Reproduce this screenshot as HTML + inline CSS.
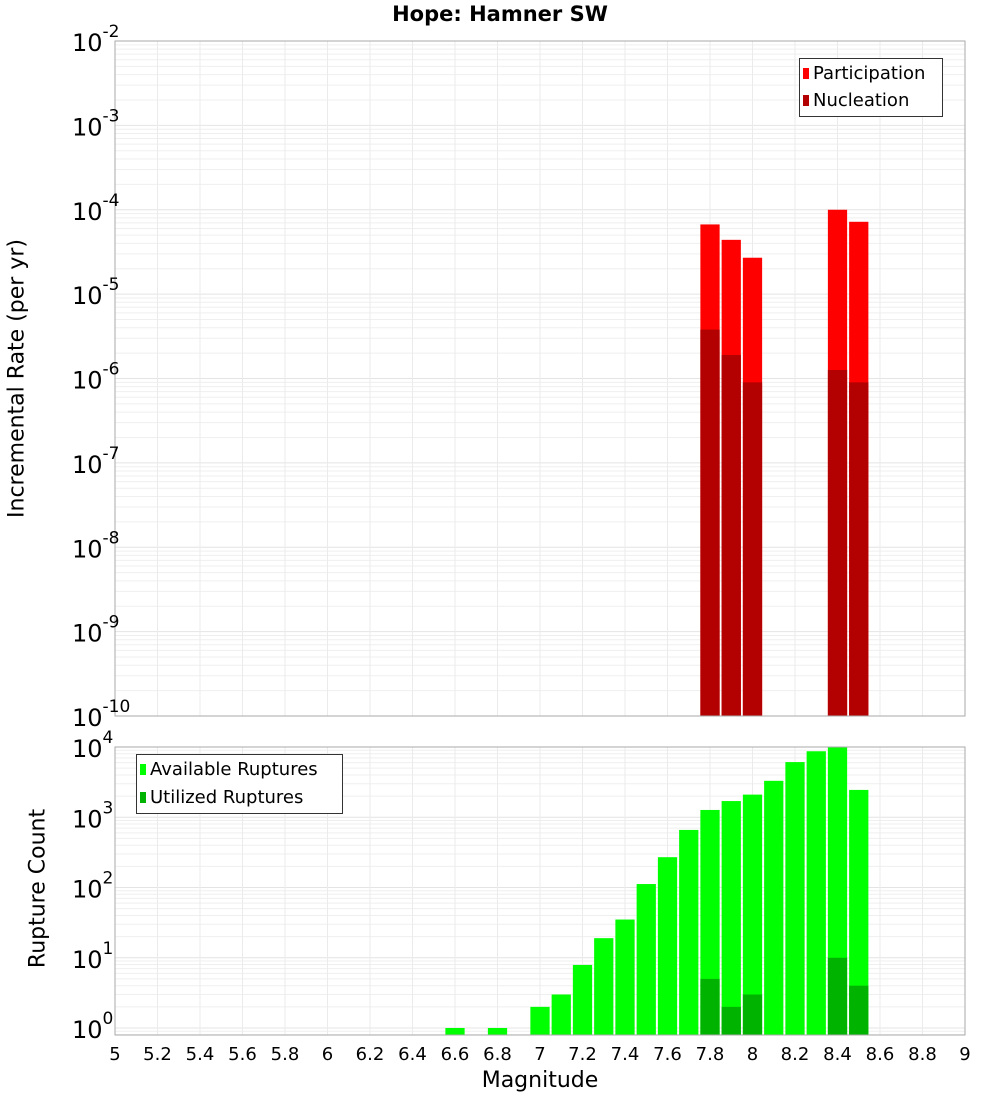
<!DOCTYPE html>
<html><head><meta charset="utf-8"><style>
body{margin:0;background:#fff;}
svg{display:block;font-family:"DejaVu Sans","Liberation Sans",sans-serif;}
</style></head><body>
<svg id="c" width="1000" height="1100"></svg>
<script>
const mags = [7.8, 7.9, 8.0, 8.4, 8.5];
const participation = [6.7e-5, 4.4e-5, 2.7e-5, 1.0e-4, 7.2e-5];
const nucleation = [3.8e-6, 1.9e-6, 9e-7, 1.26e-6, 9e-7];
const countMags = [6.6, 6.8, 7.0, 7.1, 7.2, 7.3, 7.4, 7.5, 7.6, 7.7, 7.8, 7.9, 8.0, 8.1, 8.2, 8.3, 8.4, 8.5];
const available = [1, 1, 2, 3, 7.9, 19, 35, 112, 270, 660, 1270, 1700, 2100, 3300, 6100, 8700, 10000, 2450];
const utilMags = [7.8, 7.9, 8.0, 8.4, 8.5];
const utilized = [5, 2, 3, 10, 4];
const xTicks = [5,5.2,5.4,5.6,5.8,6,6.2,6.4,6.6,6.8,7,7.2,7.4,7.6,7.8,8,8.2,8.4,8.6,8.8,9];
const topExp = [-2,-3,-4,-5,-6,-7,-8,-9,-10];
const botExp = [0,1,2,3,4];

const NS="http://www.w3.org/2000/svg", svg=document.getElementById('c');
function el(t,a,p){const e=document.createElementNS(NS,t);for(const k in a)e.setAttribute(k,a[k]);(p||svg).appendChild(e);return e;}
const L=115,R=965;
const X=v=>L+(v-5)/4*(R-L);
const T0=41,T1=716;
const YT=v=>T0+(-2-Math.log10(v))*(T1-T0)/8;
const B0=747,B1=1035,Bz=1028;
const YB=v=>Bz-Math.log10(v)*(Bz-B0)/4;

function grid(top,bot,yf,lo,hi){
  for(let e=lo;e<hi;e++)for(let m=1;m<10;m++){const y=yf(m*Math.pow(10,e));if(y<top-0.5||y>bot+0.5)continue;
    const g=el('line',{x1:L,x2:R,y1:y,y2:y,stroke:m==1?'#e4e4e4':'#efefef','stroke-width':1});
    }
  xTicks.forEach(t=>{const g=el('line',{x1:X(t),x2:X(t),y1:top,y2:bot,stroke:'#ebebeb'});
    });
}
grid(T0,T1,YT,-10,-1);
grid(B0,B1,YB,-1,5);

const bw=(R-L)/40;
function bar(m,v,yf,base,fill,name){
  const y=yf(v);const r=el('rect',{x:X(m)-bw/2+1,y:y,width:bw-2,height:base-y,fill:fill});
  }
mags.forEach((m,i)=>bar(m,participation[i],YT,T1,'#ff0000','participation-bar'));
mags.forEach((m,i)=>bar(m,nucleation[i],YT,T1,'#b30000','nucleation-bar'));
countMags.forEach((m,i)=>bar(m,available[i],YB,B1,'#00ff00','available-bar'));
utilMags.forEach((m,i)=>bar(m,utilized[i],YB,B1,'#00b300','utilized-bar'));

el('rect',{x:L,y:T0,width:R-L,height:T1-T0,fill:'none',stroke:'#aaa',});
el('rect',{x:L,y:B0,width:R-L,height:B1-B0,fill:'none',stroke:'#aaa',});

function ylab(e,y,name){const t=el('text',{x:72,y:y+10,'font-size':24,fill:'#000'});t.textContent='10';
  const s=el('tspan',{dy:-14,'font-size':17});s.textContent=e;t.appendChild(s);
  }
topExp.forEach(e=>ylab(e,YT(Math.pow(10,e)),'top-y-tick-label'));
botExp.forEach(e=>ylab(e,YB(Math.pow(10,e)),'bottom-y-tick-label'));
xTicks.forEach(t=>{const s=el('text',{x:X(t),y:1060,'font-size':18,'text-anchor':'middle'});s.textContent=String(t);
  });
</script>
<svg width="0" height="0"></svg>
<div style="position:absolute;left:0;top:0;width:1000px;height:1100px;pointer-events:none;font-family:'DejaVu Sans','Liberation Sans',sans-serif;">
  <div style="position:absolute;left:0;width:1000px;top:2px;text-align:center;font-weight:bold;font-size:21px;">Hope: Hamner SW</div>
  <div style="position:absolute;left:440px;width:200px;top:1068px;text-align:center;font-size:22px;">Magnitude</div>
  <div style="position:absolute;left:-133px;top:366px;width:300px;text-align:center;font-size:22px;transform:rotate(-90deg);">Incremental Rate (per yr)</div>
  <div style="position:absolute;left:-62px;top:876px;width:200px;text-align:center;font-size:22px;transform:rotate(-90deg);">Rupture Count</div>
  <div style="position:absolute;left:799px;top:58px;width:142px;height:57px;border:1px solid #333;background:#fff;font-size:18px;">
    <div style="position:absolute;left:3px;top:4px;"><span style="display:inline-block;width:6px;height:11px;background:#f00;margin-right:4px;"></span>Participation</div>
    <div style="position:absolute;left:3px;top:31px;"><span style="display:inline-block;width:6px;height:11px;background:#b30000;margin-right:4px;"></span>Nucleation</div>
  </div>
  <div style="position:absolute;left:136px;top:754px;width:205px;height:58px;border:1px solid #333;background:#fff;font-size:18px;">
    <div style="position:absolute;left:3px;top:4px;"><span style="display:inline-block;width:6px;height:11px;background:#0f0;margin-right:4px;"></span>Available Ruptures</div>
    <div style="position:absolute;left:3px;top:32px;"><span style="display:inline-block;width:6px;height:11px;background:#00b300;margin-right:4px;"></span>Utilized Ruptures</div>
  </div>
</div>
</body></html>
